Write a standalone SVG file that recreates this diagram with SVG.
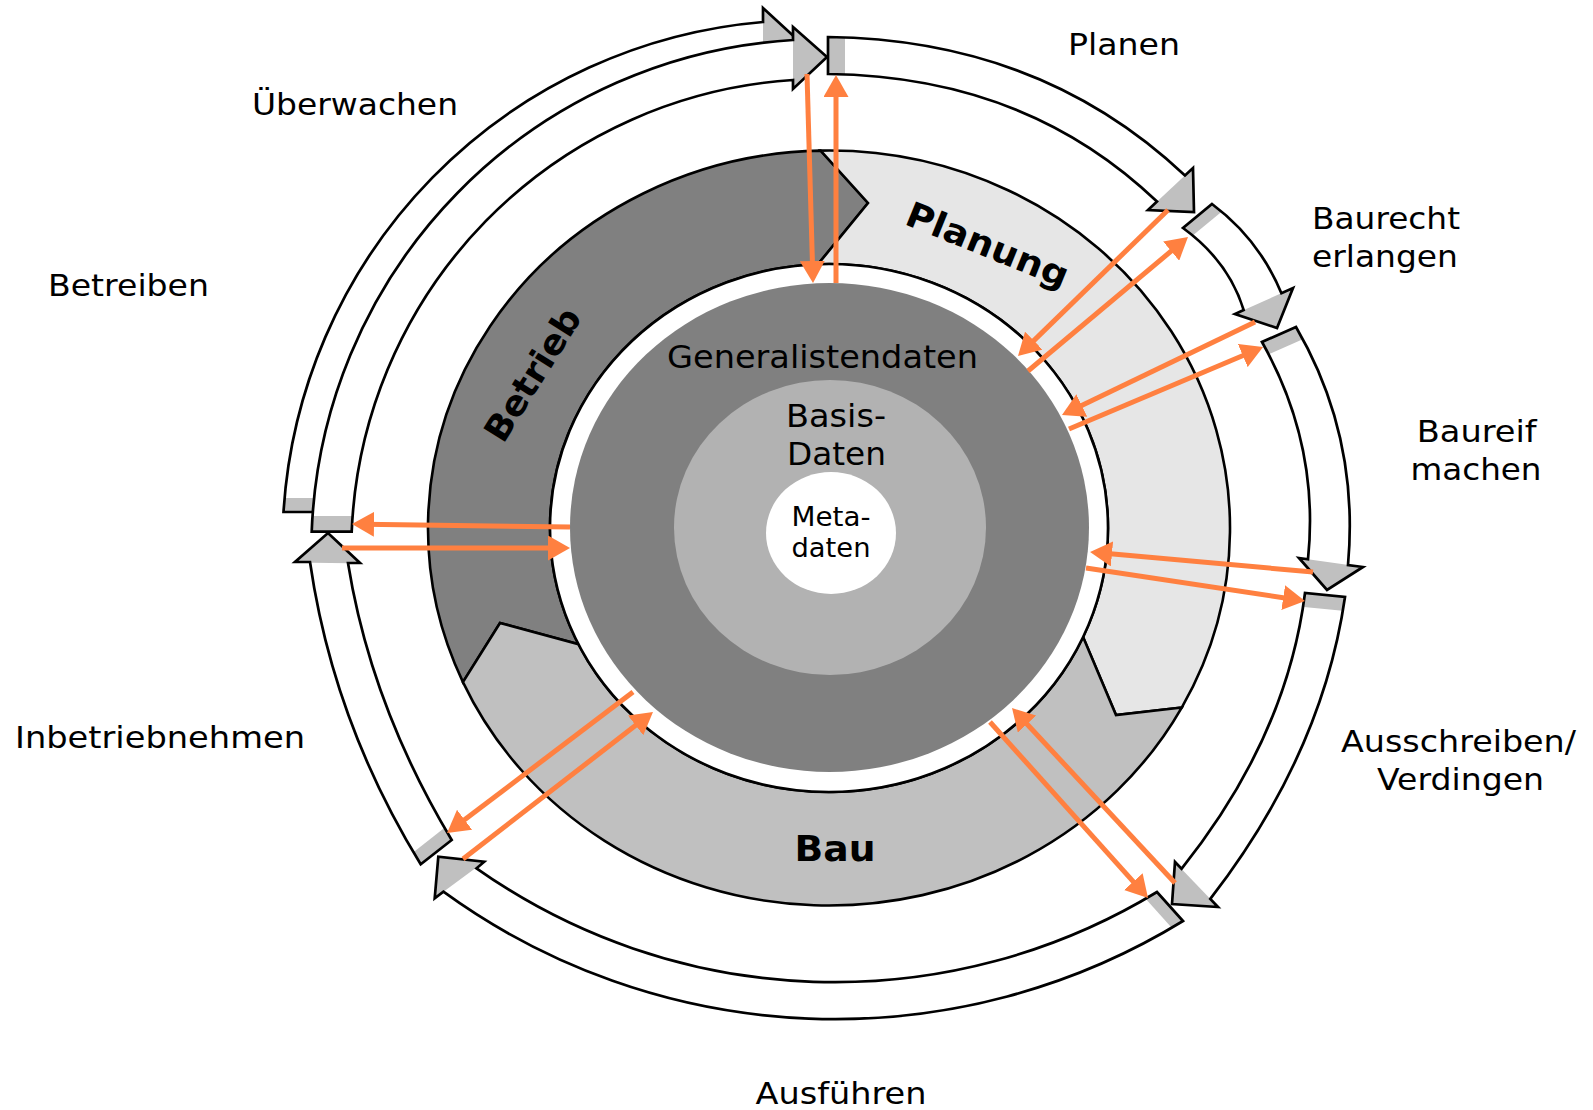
<svg xmlns="http://www.w3.org/2000/svg" xmlns:xlink="http://www.w3.org/1999/xlink" width="1593" height="1110" viewBox="0 0 1593 1110">
  <style>
    .lbl{font-family:"DejaVu Sans",Verdana,sans-serif;font-size:31px;fill:#000}
    .mid{text-anchor:middle}
    .bold{font-weight:bold;font-size:35px}
    .seg{stroke:#000;stroke-width:2.6;stroke-linejoin:miter}
    .blk{fill:#fff}
    .out{fill:none;stroke:#000;stroke-width:2.7;stroke-linejoin:miter}
    .gray{fill:#c0c0c0}
    .flow{stroke:#ff8040;stroke-width:5;fill:none;marker-end:url(#ah)}
  </style>
  <defs>
    <marker id="ah" markerUnits="userSpaceOnUse" viewBox="0 0 22 25" markerWidth="22" markerHeight="25" refX="10" refY="12.5" orient="auto">
      <path d="M0,0 L22,12.5 L0,25 Z" fill="#ff8040"/>
    </marker>
    <!-- curved block arrows of the phase cycle -->
    <path id="p-plan" d="M828,37 Q1041.1,39.55 1185,175.5 L1193,168 L1194,212 L1148,210 L1157,201.6 Q1025.9,76.2 828,74 Z"/>
    <path id="p-recht" d="M1212,204 Q1258.9,239 1281.4,293.2 L1293,288 L1277,328 L1235,314 L1243.7,310.1 Q1228.65,261.2 1183,228 Z"/>
    <path id="p-reif" d="M1296,327 Q1359.6,436.2 1348,565 L1363,567 L1327,590 L1299,558 L1308,559.3 Q1319.8,444.7 1262,342 Z"/>
    <path id="p-aus" d="M1345,597 Q1322.35,754.05 1210.3,898.9 L1218,907 L1172,904 L1175,862 L1181.5,868.8 Q1286.75,737.1 1305,593 Z"/>
    <path id="p-fuehr" d="M1183,921 A666,666 0 0 1 443.4,891.7 L434.7,898.3 L438.3,856.7 L484.2,861.7 L476.5,868.3 A620.5,620.5 0 0 0 1157,892 Z"/>
    <path id="p-inbe" d="M420.7,864.3 Q333.25,721.85 310,562 L295,562 L328,533 L360,563 L348,563 Q370.75,705.1 451.7,840 Z"/>
    <path id="p-betr" d="M311.7,531.7 A512,512 0 0 1 793,40 L793,27 L827,57 L793,89 L793,80 A472,472 0 0 0 351.7,531.7 Z"/>
    <path id="p-ueb" d="M283.5,512 A524.7,524.7 0 0 1 763,22 L763,8 L800,42 L763,76 L763,62 A485,485 0 0 0 322,512 Z"/>
    <clipPath id="c-plan"><use xlink:href="#p-plan"/></clipPath>
    <clipPath id="c-recht"><use xlink:href="#p-recht"/></clipPath>
    <clipPath id="c-reif"><use xlink:href="#p-reif"/></clipPath>
    <clipPath id="c-aus"><use xlink:href="#p-aus"/></clipPath>
    <clipPath id="c-fuehr"><use xlink:href="#p-fuehr"/></clipPath>
    <clipPath id="c-inbe"><use xlink:href="#p-inbe"/></clipPath>
    <clipPath id="c-betr"><use xlink:href="#p-betr"/></clipPath>
    <clipPath id="c-ueb"><use xlink:href="#p-ueb"/></clipPath>
  </defs>

  <rect width="1593" height="1110" fill="#fff"/>

  <!-- life-cycle ring: Betrieb, Planung, Bau -->
  <g id="ring-betrieb">
    <path class="seg" fill="#808080" d="M462.95,682.14 A401,377.5 0 0 1 820.6,150.58 L868,203 L818,264.21 A279,264 0 0 0 578.45,644.14 L500,623 Z"/>
    <text class="lbl mid bold" textLength="150" lengthAdjust="spacingAndGlyphs" transform="translate(543 381) rotate(-58)">Betrieb</text>
  </g>
  <g id="ring-planung">
    <path class="seg" fill="#e6e6e6" d="M820.6,150.58 A401,377.5 0 0 1 1181.74,707.55 L1116,715 L1083.08,637.06 A279,264 0 0 0 818,264.21 L868,203 Z"/>
    <text class="lbl mid bold" textLength="172" lengthAdjust="spacingAndGlyphs" transform="translate(983 256) rotate(22)">Planung</text>
  </g>
  <g id="ring-bau">
    <path class="seg" fill="#c0c0c0" d="M1181.74,707.55 A401,377.5 0 0 1 462.95,682.14 L500,623 L578.45,644.14 A279,264 0 0 0 1083.08,637.06 L1116,715 Z"/>
    <text class="lbl mid bold" x="835" y="861" textLength="81" lengthAdjust="spacingAndGlyphs">Bau</text>
  </g>

  <!-- data core -->
  <g id="core">
    <ellipse cx="829" cy="528" rx="279" ry="264" fill="#fff" stroke="#000" stroke-width="2.6"/>
    <g id="generalistendaten">
      <ellipse cx="829.5" cy="527.5" rx="259.5" ry="244.5" fill="#808080"/>
      <text class="lbl mid" style="font-size:32px" x="822.5" y="368" textLength="311" lengthAdjust="spacingAndGlyphs">Generalistendaten</text>
    </g>
    <g id="basisdaten">
      <ellipse cx="830" cy="527.5" rx="156" ry="147.5" fill="#b2b2b2"/>
      <text class="lbl mid" style="font-size:32px" x="836" y="427" textLength="100" lengthAdjust="spacingAndGlyphs">Basis-</text>
      <text class="lbl mid" style="font-size:32px" x="836.5" y="465" textLength="99" lengthAdjust="spacingAndGlyphs">Daten</text>
    </g>
    <g id="metadaten">
      <ellipse cx="831" cy="533" rx="65" ry="61" fill="#fff"/>
      <text class="lbl mid" style="font-size:26px" x="831" y="526" textLength="79" lengthAdjust="spacingAndGlyphs">Meta-</text>
      <text class="lbl mid" style="font-size:26px" x="831" y="557" textLength="79" lengthAdjust="spacingAndGlyphs">daten</text>
    </g>
  </g>

  <!-- phase arrows -->
  <g id="phase-ueberwachen">
    <use xlink:href="#p-ueb" class="blk"/>
    <g clip-path="url(#c-ueb)" class="gray">
      <polygon points="275,498 335,498 335,520 275,520"/>
      <polygon points="763,0 810,0 810,85 763,85"/>
    </g>
    <use xlink:href="#p-ueb" class="out"/>
    <text class="lbl" x="252" y="115" textLength="206" lengthAdjust="spacingAndGlyphs">Überwachen</text>
  </g>
  <g id="phase-betreiben">
    <use xlink:href="#p-betr" class="blk"/>
    <g clip-path="url(#c-betr)" class="gray">
      <polygon points="300,516 365,516 365,540 300,540"/>
      <polygon points="793,15 840,15 840,100 793,100"/>
    </g>
    <use xlink:href="#p-betr" class="out"/>
    <text class="lbl" x="48" y="296" textLength="161" lengthAdjust="spacingAndGlyphs">Betreiben</text>
  </g>
  <g id="phase-planen">
    <use xlink:href="#p-plan" class="blk"/>
    <g clip-path="url(#c-plan)" class="gray">
      <polygon points="820,25 845,25 845,85 820,85"/>
      <polygon points="1139,218.4 1202,159.6 1232,190 1169,248"/>
    </g>
    <use xlink:href="#p-plan" class="out"/>
    <text class="lbl" x="1068" y="54.5" textLength="112" lengthAdjust="spacingAndGlyphs">Planen</text>
  </g>
  <g id="phase-baurecht">
    <use xlink:href="#p-recht" class="blk"/>
    <g clip-path="url(#c-recht)" class="gray">
      <polygon points="1173.4,232.1 1217.8,195.3 1227.4,206.9 1183,243.6"/>
      <polygon points="1226,318 1302,284 1317,315 1241,349"/>
    </g>
    <use xlink:href="#p-recht" class="out"/>
    <text class="lbl" x="1312" y="229" textLength="148" lengthAdjust="spacingAndGlyphs">Baurecht</text>
    <text class="lbl" x="1312" y="267" textLength="146" lengthAdjust="spacingAndGlyphs">erlangen</text>
  </g>
  <g id="phase-baureif">
    <use xlink:href="#p-reif" class="blk"/>
    <g clip-path="url(#c-reif)" class="gray">
      <polygon points="1251.7,343.3 1303.9,320.3 1310.7,335.8 1258.5,358.8"/>
      <polygon points="1290,556.7 1372,568.3 1368,600 1286,590"/>
    </g>
    <use xlink:href="#p-reif" class="out"/>
    <text class="lbl mid" x="1476.7" y="442" textLength="120" lengthAdjust="spacingAndGlyphs">Baureif</text>
    <text class="lbl mid" x="1476" y="480" textLength="131" lengthAdjust="spacingAndGlyphs">machen</text>
  </g>
  <g id="phase-ausschreiben">
    <use xlink:href="#p-aus" class="blk"/>
    <g clip-path="url(#c-aus)" class="gray">
      <polygon points="1295.3,589 1355.3,595 1353.6,611.9 1293.7,605.9"/>
      <polygon points="1168,854.7 1225,914.3 1185,946.3 1128,886.7"/>
    </g>
    <use xlink:href="#p-aus" class="out"/>
    <text class="lbl mid" x="1458.5" y="752" textLength="235" lengthAdjust="spacingAndGlyphs">Ausschreiben/</text>
    <text class="lbl mid" x="1460.5" y="790" textLength="167" lengthAdjust="spacingAndGlyphs">Verdingen</text>
  </g>
  <g id="phase-ausfuehren">
    <use xlink:href="#p-fuehr" class="blk"/>
    <g clip-path="url(#c-fuehr)" class="gray">
      <polygon points="1152.6,882.6 1191.9,926.4 1180,937.1 1140.7,893.2"/>
      <polygon points="424.8,905.6 494.1,854.4 462.6,819.9 393.3,871.1"/>
    </g>
    <use xlink:href="#p-fuehr" class="out"/>
    <text class="lbl mid" x="841" y="1104" textLength="171" lengthAdjust="spacingAndGlyphs">Ausführen</text>
  </g>
  <g id="phase-inbetriebnehmen">
    <use xlink:href="#p-inbe" class="blk"/>
    <g clip-path="url(#c-inbe)" class="gray">
      <polygon points="414.7,872.8 461.4,836.2 450.9,822.8 404.2,859.4"/>
      <polygon points="288,562.5 367,563.5 367,520 288,520"/>
    </g>
    <use xlink:href="#p-inbe" class="out"/>
    <text class="lbl" x="15" y="748" textLength="290" lengthAdjust="spacingAndGlyphs">Inbetriebnehmen</text>
  </g>

  <!-- data flows between the phases and the data core -->
  <g id="connectors">
    <path class="flow" d="M807,74 L812.66,271"/>
    <path class="flow" d="M836,283 L836,87"/>
    <path class="flow" d="M1168,210 L1026.6,347.6"/>
    <path class="flow" d="M1028,371 L1178.8,244.7"/>
    <path class="flow" d="M1255,322 L1072.8,409.8"/>
    <path class="flow" d="M1069,429 L1252,351.7"/>
    <path class="flow" d="M1313,572 L1102,553.1"/>
    <path class="flow" d="M1086,568 L1293.1,599.2"/>
    <path class="flow" d="M1175,883 L1020.2,716.8"/>
    <path class="flow" d="M990,722 L1140,889.1"/>
    <path class="flow" d="M633,692 L456.6,825.8"/>
    <path class="flow" d="M463,859 L643.5,719.3"/>
    <path class="flow" d="M570,527 L364,524.2"/>
    <path class="flow" d="M342,548 L558,548"/>
  </g>
</svg>
